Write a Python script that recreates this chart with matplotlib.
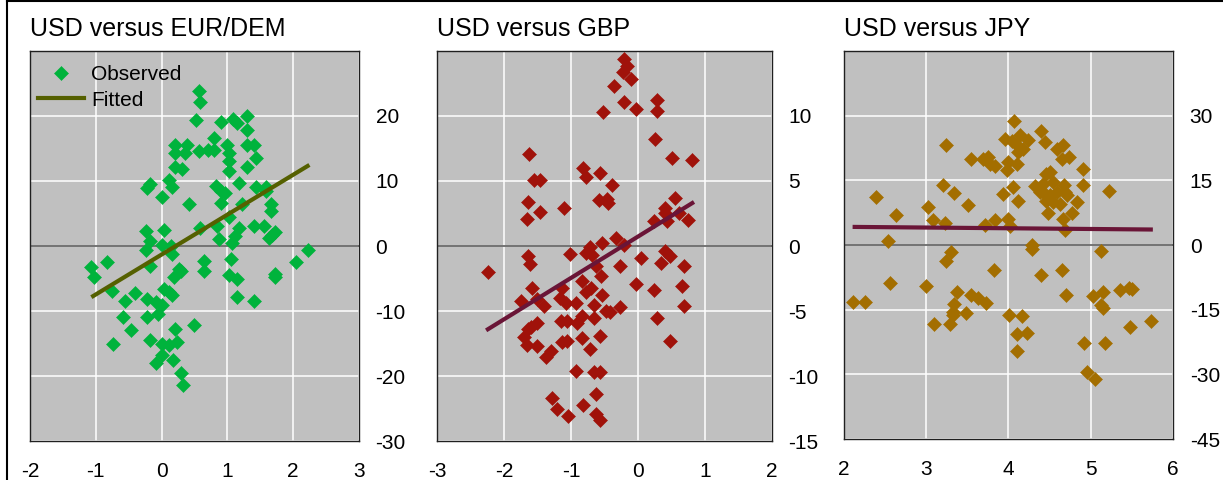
import matplotlib.pyplot as plt
from matplotlib.lines import Line2D

plt.rcParams['font.family'] = ['Liberation Sans', 'DejaVu Sans']
plt.rcParams['axes.unicode_minus'] = False

# Observed points
eur_x = [0.57, 0.59, 0.52, 0.90, 1.08, 1.15, 1.30, 1.30, 0.80, 0.21, 0.39, 0.21, 0.36, 0.57, 0.70,
         0.80, 1.00, 1.02, 1.30, 1.40, 1.43, 1.02, 1.02, 1.30, 0.21, 0.31, 1.18, 0.11, 0.16, -0.17,
         -0.22, 0.00, 0.42, 0.82, 0.90, 0.97, 0.90, 1.23, 1.43, 1.58, 1.58, 1.67, 1.67, 1.02, 0.59,
         0.84, 0.87, 1.18, 1.40, 1.55, 1.12, 1.07, 1.68, 1.73, 1.63, -0.24, 0.03, -0.17, -0.24, 0.01,
         0.14, 0.16, -0.17, 2.22, 2.04, 1.05, 0.64, 0.64, 0.26, 0.30, 0.19, 1.02, 1.15, 1.73, 1.72,
         1.15, 1.40, 0.04, 0.11, 0.16, -1.07, -1.03, -0.83, -0.76, -0.40, -0.56, -0.22, -0.09, 0.00,
         -0.05, -0.22, -0.58, -0.46, -0.74, -0.17, 0.01, 0.11, 0.24, 0.21, 0.49, 0.01, -0.09, 0.17,
         0.30, 0.32]
eur_y = [23.8, 22.2, 19.4, 19.1, 19.6, 18.9, 20.0, 17.8, 16.6, 15.6, 15.6, 14.3, 14.3, 14.6, 14.7,
         14.7, 15.6, 14.3, 15.6, 15.6, 13.6, 13.1, 11.6, 12.1, 12.2, 11.8, 9.7, 10.1, 9.1, 9.5,
         8.9, 7.6, 6.4, 9.3, 8.5, 8.1, 6.6, 6.4, 9.1, 9.0, 8.4, 6.4, 5.4, 4.5, 2.7,
         3.0, 1.0, 2.7, 3.1, 3.1, 1.5, 0.4, 1.7, 2.1, 1.2, 2.3, 2.5, 0.7, -0.6, 0.2,
         0.0, -1.2, -3.1, -0.6, -2.4, -2.0, -2.3, -3.8, -3.6, -3.8, -4.8, -4.5, -5.1, -4.3, -4.7,
         -7.8, -8.5, -6.6, -7.1, -7.6, -3.3, -4.8, -2.4, -6.9, -7.2, -8.5, -8.1, -8.6, -9.1,
         -10.4, -10.9, -10.9, -12.9, -15.1, -14.4, -15.1, -15.2, -14.7, -12.7, -12.1, -16.7, -18.0, -17.6,
         -19.5, -21.3]
eur_fit_x = [-1.04, 2.22]
eur_fit_y = [-7.7, 12.3]

gbp_x = [-0.21, -0.16, -0.23, -0.10, -0.36, -0.21, -0.52, -0.03, 0.29, 0.28, 0.26, 0.51, 0.81, -1.62,
         -1.55, -1.46, -0.82, -0.78, -0.57, -0.39, -0.58, -0.46, -0.45, -1.64, -1.46, -1.65, -1.11, 0.56,
         0.41, 0.40, 0.61, 0.43, 0.24, 0.75, -0.33, -0.21, -0.53, -0.71, -0.77, -0.68, -1.02, -1.64,
         -1.61, -0.62, -0.27, 0.05, 0.41, 0.48, 0.35, 0.69, -0.55, -2.24, -0.83, -0.78, -0.70, -1.58,
         -0.03, 0.24, 0.66, -0.53, -1.13, -1.16, -1.75, -1.50, -1.40, -1.07, -0.92, -0.66, -0.48, -0.41,
         -0.27, 0.69, -0.83, -0.91, -0.66, -1.15, -1.06, -1.51, -1.60, -1.64, 0.29, -1.70, -1.65, -1.51,
         -1.13, -1.06, -0.83, -0.56, -0.71, 0.48, -1.38, -1.30, -0.92, -0.66, -0.56, -0.62, -1.28, -1.21,
         -0.82, -1.05, -0.63, -0.56]
gbp_y = [14.4, 13.8, 13.4, 12.8, 12.3, 11.1, 10.3, 10.5, 11.2, 10.4, 8.2, 6.8, 6.6, 7.1,
         5.1, 5.1, 6.0, 5.3, 5.6, 4.7, 3.5, 3.6, 3.3, 3.4, 2.6, 2.1, 2.9, 3.7,
         2.9, 2.5, 2.5, 1.9, 1.9, 2.0, 0.6, 0.1, 0.2, -0.1, -0.5, -0.7, -0.6, -0.8,
         -1.4, -1.5, -1.5, -0.9, -0.4, -0.8, -1.3, -1.5, -2.3, -2.0, -2.7, -3.5, -3.2, -3.2,
         -2.9, -3.4, -3.1, -3.8, -3.2, -4.0, -4.2, -4.1, -4.6, -4.4, -4.4, -4.5, -5.0, -5.1,
         -4.7, -4.6, -5.4, -5.9, -5.5, -5.8, -5.8, -5.9, -6.2, -6.4, -5.5, -7.0, -7.6, -7.7,
         -7.4, -7.3, -7.1, -6.9, -7.9, -7.3, -8.5, -8.1, -9.6, -9.7, -9.7, -11.4, -11.7, -12.5,
         -12.2, -13.1, -12.9, -13.4]
gbp_fit_x = [-2.24, 0.81]
gbp_fit_y = [-6.4, 3.3]

jpy_x = [4.07, 3.96, 4.04, 4.14, 4.24, 4.10, 4.18, 4.12, 4.40, 4.44, 4.59, 4.66, 4.65, 4.73,
         3.24, 3.55, 3.69, 3.75, 3.77, 3.84, 4.00, 4.10, 3.98, 4.90, 4.46, 4.50, 4.32, 4.42,
         4.54, 4.67, 4.38, 4.44, 4.51, 4.59, 4.69, 4.46, 4.54, 4.63, 4.71, 4.83, 4.77, 4.48,
         4.66, 4.69, 4.90, 5.22, 4.05, 3.93, 4.12, 4.00, 4.02, 3.84, 3.72, 3.20, 3.34, 3.51,
         3.02, 3.08, 3.23, 2.39, 2.63, 2.54, 4.29, 4.29, 3.30, 3.24, 5.13, 3.82, 4.40, 4.65,
         2.56, 3.00, 3.37, 3.55, 3.63, 3.73, 3.34, 3.33, 3.32, 3.48, 4.70, 2.11, 2.26, 3.10,
         3.29, 4.01, 4.17, 4.10, 4.22, 4.10, 5.03, 5.15, 5.13, 5.15, 5.36, 5.47, 5.50, 5.73,
         5.48, 4.92, 5.17, 4.95, 5.05]
jpy_y = [28.7, 24.6, 24.0, 25.4, 24.4, 23.1, 22.3, 21.5, 26.5, 23.8, 22.3, 23.1, 20.0, 20.4,
         23.1, 20.0, 20.0, 20.4, 18.8, 18.4, 19.2, 18.8, 17.3, 17.7, 16.5, 16.9, 13.6, 14.2,
         14.6, 13.8, 12.3, 11.9, 11.5, 12.3, 12.3, 10.3, 9.9, 9.6, 11.5, 9.9, 7.5, 7.5,
         6.1, 3.4, 14.0, 12.5, 13.4, 11.9, 10.1, 6.1, 4.5, 5.7, 4.7, 14.0, 12.0, 9.3,
         8.9, 5.9, 5.2, 11.1, 7.0, 0.9, 0.1, -1.0, -1.6, -3.8, -1.4, -5.9, -7.0, -5.9,
         -8.8, -9.6, -10.9, -11.6, -12.3, -13.4, -13.6, -15.5, -16.3, -15.7, -11.5, -13.3, -13.3, -18.4,
         -18.4, -16.1, -16.5, -20.7, -20.4, -24.5, -11.9, -10.9, -13.8, -14.7, -10.5, -9.9, -10.3, -17.6,
         -19.0, -22.7, -22.7, -29.4, -31.1]
jpy_fit_x = [2.13, 5.73]
jpy_fit_y = [4.2, 3.6]

titles = ['USD versus EUR/DEM', 'USD versus GBP', 'USD versus JPY']
xlims = [(-2, 3), (-3, 2), (2, 6)]
ylims = [(-30, 30), (-15, 15), (-45, 45)]
yticks = [[-30, -20, -10, 0, 10, 20],
          [-15, -10, -5, 0, 5, 10],
          [-45, -30, -15, 0, 15, 30]]

dot_colors = ['#00B33C', '#A0120A', '#A36E00']
fit_colors = ['#556000', '#6A1537', '#6A1537']

panels = [(eur_x, eur_y, eur_fit_x, eur_fit_y),
          (gbp_x, gbp_y, gbp_fit_x, gbp_fit_y),
          (jpy_x, jpy_y, jpy_fit_x, jpy_fit_y)]

# axes boxes in figure fractions (left, bottom, width, height)
boxes = [(0.0245, 0.081, 0.269, 0.813),
         (0.3573, 0.081, 0.2739, 0.813),
         (0.6901, 0.085, 0.2690, 0.809)]

fig = plt.figure(figsize=(12.23, 4.8), dpi=100)

for i, (px, py, fx, fy) in enumerate(panels):
    ax = fig.add_axes(boxes[i])
    ax.set_facecolor('#C0C0C0')
    ax.set_xlim(*xlims[i])
    ax.set_ylim(*ylims[i])
    ax.set_xticks(range(xlims[i][0], xlims[i][1] + 1))
    ax.set_yticks(yticks[i])
    ax.grid(True, color='white', linewidth=1.1)
    ax.set_axisbelow(True)
    ax.axhline(0, color='#505050', linewidth=1.1, zorder=1.5)

    ax.plot(px, py, linestyle='none', marker='D', markersize=7.4,
            markeredgewidth=0.4, color=dot_colors[i], label='Observed', zorder=3)
    ax.plot(fx, fy, color=fit_colors[i], linewidth=3, label='Fitted', zorder=4)

    ax.yaxis.tick_right()
    ax.tick_params(axis='both', length=0, labelsize=15)
    ax.tick_params(axis='y', pad=12)
    ax.tick_params(axis='x', pad=15)
    for sp in ax.spines.values():
        sp.set_color('#202020')
        sp.set_linewidth(1)

    ax.set_title(titles[i], loc='left', fontsize=18, pad=11)

    if i == 0:
        ax.legend(loc='upper left', frameon=False, fontsize=15, handlelength=2.2,
                  handletextpad=0.35, labelspacing=0.3, borderaxespad=0.5,
                  borderpad=0.2, bbox_to_anchor=(-0.02, 1.0))

# outer frame lines (left and top)
fig.add_artist(Line2D([6.5 / 1223, 6.5 / 1223], [0, 1], color='black', linewidth=1.5))
fig.add_artist(Line2D([6.5 / 1223, 1], [1 - 0.7 / 480, 1 - 0.7 / 480], color='black', linewidth=1.5))

fig.savefig('out.png', dpi=100)
